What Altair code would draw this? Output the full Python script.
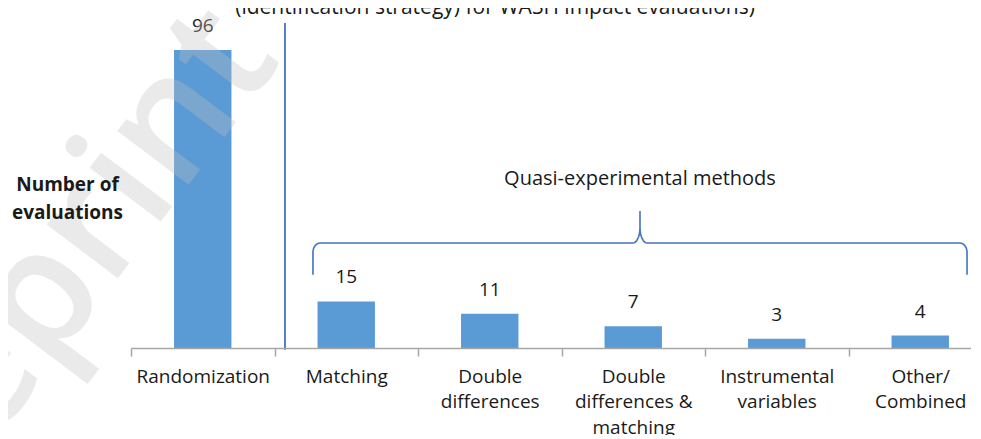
import math
import altair as alt
import pandas as pd

# ---------------- data ----------------
categories = ["Randomization", "Matching", "Double|differences",
              "Double|differences &|matching", "Instrumental|variables",
              "Other/|Combined"]
counts = [96, 15, 11, 7, 3, 4]

title_text = "(identification strategy) for WASH impact evaluations)"
group_label = "Quasi-experimental methods"
y_title = ["Number of", "evaluations"]
watermark = "Preprint"

# annotation anchors in chart units (x: category slots 0..6, y: evaluations)
brace_x0, brace_x1, brace_tip = 1.268, 5.826, 3.547
brace_y_end, brace_y_line, brace_y_tip = 23.6, 33.8, 44.1
sep_x, sep_top, sep_bottom = 1.073, 104.7, -0.6
group_label_pos = (3.547, 52.5)
title_pos = (2.537, 107.6)
watermark_pos = (-0.6, 18.0)

# ---------------- helpers ----------------
def brace_points(x0, x1, xm, y_end, y_line, y_tip, rx=0.05, ry_end=3.0, ry_tip=5.0, n=8):
    pts = [(x0, y_end)]
    for i in range(n + 1):
        t = i / n * math.pi / 2
        pts.append((x0 + rx - rx * math.cos(t), y_line - ry_end + ry_end * math.sin(t)))
    for i in range(n + 1):
        t = i / n * math.pi / 2
        pts.append((xm - rx + rx * math.sin(t), y_line + ry_tip - ry_tip * math.cos(t)))
    pts.append((xm, y_tip))
    for i in range(n, -1, -1):
        t = i / n * math.pi / 2
        pts.append((xm + rx - rx * math.sin(t), y_line + ry_tip - ry_tip * math.cos(t)))
    for i in range(n, -1, -1):
        t = i / n * math.pi / 2
        pts.append((x1 - rx + rx * math.cos(t), y_line - ry_end + ry_end * math.sin(t)))
    pts.append((x1, y_end))
    return pts


FONT = "Open Sans"
TXT = "#1a1a1a"
BLUE = "#5B9BD5"
LINE_BLUE = "#4472C4"
RANGE_X = [0, 861]
Y_DOMAIN = [0, 105]

bars_df = pd.DataFrame({"method": categories, "count": counts})

x_nom = alt.X(
    "method:N", sort=categories,
    scale=alt.Scale(range=RANGE_X, paddingInner=0, paddingOuter=0),
    axis=alt.Axis(title=None, labelAngle=0, labelExpr="split(datum.label, '|')",
                  tickBand="extent", tickSize=8, tickColor="#a6a6a6", tickWidth=1.5,
                  domainColor="#a6a6a6", domainWidth=1.5, labelFont=FONT,
                  labelFontSize=19, labelColor=TXT, labelPadding=11,
                  labelLineHeight=25.5, labelOverlap=False, labelLimit=300,
                  grid=False, zindex=1),
)
y_bar = alt.Y(
    "count:Q", scale=alt.Scale(domain=Y_DOMAIN, nice=False),
    axis=alt.Axis(title=y_title, titleAngle=0, titleX=-64, titleY=168,
                  titleAlign="center", titleBaseline="alphabetic",
                  titleFont=FONT, titleFontWeight="bold", titleFontSize=19,
                  titleColor=TXT, titleLineHeight=28, domain=False, ticks=False,
                  labels=False, grid=False, zindex=1),
)

bars = alt.Chart(bars_df).mark_bar(
    color=BLUE, width=alt.RelativeBandSize(0.4)
).encode(x=x_nom, y=y_bar)
bar_labels = alt.Chart(bars_df).mark_text(
    dy=-24, baseline="middle", font=FONT, fontSize=19, color=TXT
).encode(x=x_nom, y=y_bar, text="count:Q")

xq = lambda f: alt.X(f, scale=alt.Scale(domain=[0, 6], range=RANGE_X, nice=False, zero=False), axis=None)
yq = lambda f: alt.Y(f, scale=alt.Scale(domain=Y_DOMAIN, nice=False, zero=False), axis=None)

wm_df = pd.DataFrame({"text": [watermark], "x": [watermark_pos[0]], "y": [watermark_pos[1]]})
wm = alt.Chart(wm_df).mark_text(
    angle=307, fontSize=165, font=FONT, fontWeight=600, color="#c0c0c0", opacity=0.32,
    align="center", baseline="middle"
).encode(x=xq("x:Q"), y=yq("y:Q"), text="text:N")

sep_df = pd.DataFrame({"x": [sep_x], "y": [sep_top], "y2": [sep_bottom]})
sep = alt.Chart(sep_df).mark_rule(color=LINE_BLUE, strokeWidth=1.8).encode(
    x=xq("x:Q"), y=yq("y:Q"), y2="y2:Q")

pts = brace_points(brace_x0, brace_x1, brace_tip, brace_y_end, brace_y_line, brace_y_tip)
brace_df = pd.DataFrame({"i": list(range(len(pts))),
                         "bx": [p[0] for p in pts], "by": [p[1] for p in pts]})
brace = alt.Chart(brace_df).mark_line(color=LINE_BLUE, strokeWidth=1.6).encode(
    x=xq("bx:Q"), y=yq("by:Q"), order="i:Q")

grp_df = pd.DataFrame({"text": [group_label], "x": [group_label_pos[0]], "y": [group_label_pos[1]]})
grp = alt.Chart(grp_df).mark_text(
    font=FONT, fontSize=20, color=TXT, align="center", baseline="alphabetic"
).encode(x=xq("x:Q"), y=yq("y:Q"), text="text:N")

ttl_df = pd.DataFrame({"text": [title_text], "x": [title_pos[0]], "y": [title_pos[1]]})
ttl = alt.Chart(ttl_df).mark_text(
    font=FONT, fontSize=21, color=TXT, align="center", baseline="alphabetic"
).encode(x=xq("x:Q"), y=yq("y:Q"), text="text:N")

chart = alt.layer(
    alt.layer(bars, bar_labels),
    wm, sep, brace, grp, ttl
).resolve_scale(x="independent", y="independent").properties(
    width=840, height=326,
    autosize=alt.AutoSizeParams(type="none"),
    padding={"left": 123, "top": 14, "right": 0, "bottom": 87},
    background="white",
).configure_view(stroke=None)

chart.save("out.html", embed_options={"renderer": "svg", "actions": False})
